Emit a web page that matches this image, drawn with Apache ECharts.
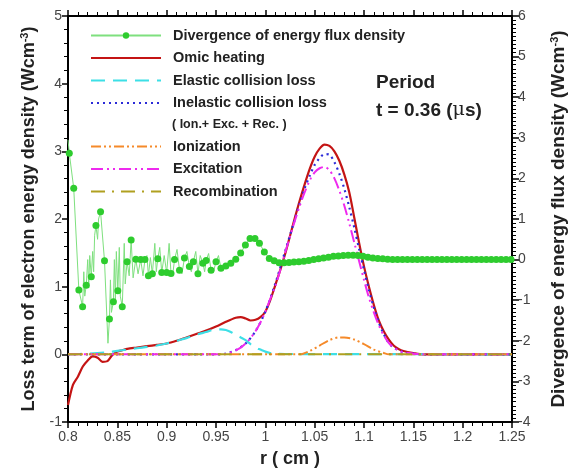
<!DOCTYPE html>
<html>
<head>
<meta charset="utf-8">
<script src="https://cdn.jsdelivr.net/npm/echarts@6/dist/echarts.min.js"></script>
<style>
  html, body { margin: 0; padding: 0; background: #fff; }
  #chart { width: 574px; height: 470px; }
</style>
</head>
<body>
<div id="chart"></div>
<script>
// r (cm) and values
var divDots = [ // divergence of energy flux density, right axis, dots
  [0.8013, 2.62], [0.8058, 1.76], [0.811, -0.75], [0.8148, -1.16], [0.8185, -0.63], [0.8236, -0.42],
  [0.8283, 0.84], [0.833, 1.18], [0.837, -0.03], [0.842, -1.46], [0.846, -1.04], [0.8505, -0.77],
  [0.855, -1.16], [0.8599, -0.05], [0.864, 0.48], [0.8687, 0.01], [0.8737, 0.0], [0.878, 0.0],
  [0.8815, -0.4], [0.8855, -0.35], [0.891, 0.02], [0.895, -0.32], [0.90, -0.32], [0.9044, -0.34],
  [0.908, 0.0], [0.913, -0.26], [0.918, 0.04], [0.923, -0.17], [0.927, -0.05], [0.9317, -0.35],
  [0.9367, -0.09], [0.940, -0.02], [0.945, -0.26], [0.950, -0.05], [0.955, -0.21], [0.960, -0.16],
  [0.965, -0.09], [0.970, 0.01], [0.975, 0.16], [0.9798, 0.36], [0.9845, 0.52], [0.9895, 0.52],
  [0.994, 0.40], [0.999, 0.19], [1.004, 0.03], [1.009, -0.03], [1.014, -0.08], [1.019, -0.08],
  [1.024, -0.07], [1.029, -0.06], [1.034, -0.05], [1.039, -0.04], [1.044, -0.02], [1.049, 0.0],
  [1.054, 0.02], [1.059, 0.04], [1.064, 0.06], [1.069, 0.08], [1.074, 0.09], [1.079, 0.1],
  [1.084, 0.11], [1.089, 0.11], [1.094, 0.1], [1.099, 0.08], [1.104, 0.06], [1.109, 0.04],
  [1.114, 0.03], [1.119, 0.02], [1.124, 0.01], [1.129, 0.0], [1.134, 0.0], [1.139, 0.0],
  [1.144, 0.0], [1.149, 0.0], [1.154, 0.0], [1.159, 0.0], [1.164, 0.0], [1.169, 0.0],
  [1.174, 0.0], [1.179, 0.0], [1.184, 0.0], [1.189, 0.0], [1.194, 0.0], [1.199, 0.0],
  [1.204, 0.0], [1.209, 0.0], [1.214, 0.0], [1.219, 0.0], [1.224, 0.0], [1.229, 0.0],
  [1.234, 0.0], [1.239, 0.0], [1.244, 0.0], [1.249, 0.0]
]
var divSpikes = [ // thin line wiggles between the dots
  [0.8, 2.95], [0.816, -0.3], [0.817, -0.9], [0.82, 0.0], [0.821, -0.7], [0.822, 0.1],
  [0.825, 0.2], [0.826, -0.3], [0.827, 0.6], [0.83, 0.5], [0.831, 1.0], [0.8405, -2.06],
  [0.843, -0.5], [0.844, -1.3], [0.847, 0.0], [0.848, -1.0], [0.849, 0.2], [0.852, 0.3],
  [0.853, -0.9], [0.857, 0.4], [0.858, -0.6], [0.862, -0.4], [0.866, -0.45], [0.871, -0.35],
  [0.876, -0.4], [0.88, 0.1], [0.8835, 0.05], [0.888, 0.4], [0.8895, -0.3], [0.893, 0.3],
  [0.8975, 0.1], [0.9025, 0.4], [0.906, -0.4], [0.9105, 0.25], [0.9155, -0.35], [0.9205, 0.2],
  [0.925, -0.3], [0.9295, 0.2], [0.934, 0.1], [0.9385, -0.3], [0.9425, 0.15], [0.9475, -0.3],
  [0.9525, 0.1], [0.9575, -0.25]
]

var omic = [
  [0.8, -0.75], [0.805, -0.45], [0.81, -0.33], [0.815, -0.18], [0.82, -0.09], [0.825, -0.03],
  [0.83, -0.05], [0.835, -0.11], [0.84, -0.1], [0.845, -0.01], [0.85, 0.04], [0.855, 0.06],
  [0.86, 0.08], [0.87, 0.1], [0.88, 0.12], [0.89, 0.14], [0.9, 0.16], [0.91, 0.2], [0.92, 0.25],
  [0.93, 0.3], [0.94, 0.35], [0.95, 0.41], [0.96, 0.48], [0.97, 0.54], [0.975, 0.55], [0.98, 0.53],
  [0.985, 0.5], [0.99, 0.51], [0.995, 0.55], [1.0, 0.63], [1.005, 0.8], [1.01, 1.02], [1.015, 1.24],
  [1.02, 1.48], [1.025, 1.75], [1.03, 2.02], [1.035, 2.28], [1.04, 2.52], [1.045, 2.74], [1.05, 2.92],
  [1.055, 3.04], [1.06, 3.1], [1.065, 3.08], [1.07, 3.0], [1.075, 2.86], [1.08, 2.66], [1.085, 2.4],
  [1.09, 2.03], [1.095, 1.65], [1.1, 1.3], [1.105, 1.0], [1.11, 0.73], [1.115, 0.5], [1.12, 0.34],
  [1.125, 0.22], [1.13, 0.13], [1.135, 0.08], [1.14, 0.05], [1.15, 0.02], [1.16, 0], [1.2, 0], [1.25, 0]
]
var elastic = [
  [0.8, 0], [0.82, 0.01], [0.84, 0.03], [0.85, 0.05], [0.86, 0.07], [0.87, 0.09], [0.88, 0.11],
  [0.89, 0.13], [0.9, 0.16], [0.91, 0.2], [0.92, 0.24], [0.93, 0.29], [0.94, 0.33], [0.95, 0.37],
  [0.955, 0.37], [0.96, 0.36], [0.965, 0.33], [0.97, 0.29], [0.975, 0.25], [0.98, 0.21], [0.985, 0.15],
  [0.99, 0.1], [0.995, 0.07], [1.0, 0.04], [1.005, 0.02], [1.01, 0.01], [1.02, 0.005], [1.25, 0]
]
var inelastic = [
  [0.8, 0], [0.955, 0], [0.96, 0.01], [0.97, 0.06], [0.98, 0.16], [0.99, 0.34], [1.0, 0.63],
  [1.01, 1.04], [1.02, 1.52], [1.03, 2.0], [1.035, 2.24], [1.04, 2.46], [1.045, 2.64], [1.05, 2.8],
  [1.055, 2.9], [1.06, 2.96], [1.065, 2.95], [1.07, 2.84], [1.075, 2.67], [1.08, 2.45], [1.085, 2.18],
  [1.09, 1.88], [1.095, 1.56], [1.1, 1.25], [1.105, 0.95], [1.11, 0.69], [1.115, 0.47], [1.12, 0.3],
  [1.125, 0.17], [1.13, 0.1], [1.14, 0.03], [1.15, 0.01], [1.16, 0], [1.25, 0]
]
var ionization = [
  [0.8, 0], [1.035, 0], [1.045, 0.05], [1.055, 0.13], [1.065, 0.21], [1.075, 0.25], [1.08, 0.25],
  [1.09, 0.22], [1.1, 0.15], [1.11, 0.07], [1.12, 0.02], [1.125, 0], [1.25, 0]
]
var excitation = [
  [0.8, 0], [0.955, 0], [0.96, 0.01], [0.965, 0.03], [0.97, 0.06], [0.975, 0.1], [0.98, 0.16],
  [0.985, 0.24], [0.99, 0.34], [0.995, 0.47], [1.0, 0.63], [1.005, 0.82], [1.01, 1.0], [1.015, 1.24],
  [1.02, 1.5], [1.025, 1.74], [1.03, 1.98], [1.035, 2.2], [1.04, 2.4], [1.045, 2.57], [1.05, 2.69],
  [1.055, 2.75], [1.06, 2.77], [1.065, 2.72], [1.07, 2.6], [1.075, 2.42], [1.08, 2.2], [1.085, 1.94],
  [1.09, 1.66], [1.095, 1.38], [1.1, 1.1], [1.105, 0.84], [1.11, 0.62], [1.115, 0.43], [1.12, 0.28],
  [1.125, 0.17], [1.13, 0.1], [1.135, 0.06], [1.14, 0.03], [1.15, 0.01], [1.16, 0], [1.25, 0]
]
var recombination = [[0.8, 0], [1.25, 0]]

var xTicks = [0.8, 1.25, 0.05]
var leftTicks = [-1, 5, 1]
var rightTicks = [-4, 6, 1]

var myChart = echarts.init(document.getElementById('chart'))

// dots + wiggles in one thin line, dots only where they were drawn
var divData = divDots.map(p => ({ value: p })).concat(divSpikes.map(p => ({ value: p, symbol: 'none' })))
divData.sort((a, b) => a.value[0] - b.value[0])

var tickFont = { color: '#444', fontSize: 14, fontFamily: 'Arial, Liberation Sans' }
function nameFont(size) {
  return {
    color: '#222', fontSize: size, fontWeight: 'bold', fontFamily: 'Arial, Liberation Sans',
    rich: { sup: { fontSize: 11, fontWeight: 'bold', color: '#222', verticalAlign: 'top', padding: [0, 0, 9, 0] } }
  }
}
var blackAxis = { onZero: false, lineStyle: { color: '#000', width: 2 } }

function curve(name, data, color, type, width) {
  return {
    name: name, type: 'line', data: data, yAxisIndex: 0, symbol: 'none', smooth: 0.3,
    lineStyle: { color: color, width: width || 2, type: type },
    itemStyle: { color: color }
  }
}
function noDot(name) { return { name: name, itemStyle: { opacity: 0 } } }

var legendText = { color: '#222', fontSize: 14.5, fontWeight: 'bold', fontFamily: 'Arial, Liberation Sans', padding: [0, 0, 0, 7] }

option = {
  backgroundColor: '#fff',
  animation: false,
  grid: { left: 68, right: 62, top: 16, bottom: 48, outerBoundsMode: 'none' },
  legend: [{
    data: [{ name: 'Divergence of energy flux density' }, noDot('Omic heating'), noDot('Elastic collision loss'), noDot('Inelastic collision loss')],
    orient: 'vertical', left: 85, top: 23, itemWidth: 70, itemHeight: 8, itemGap: 7.5,
    textStyle: legendText
  }, {
    data: [noDot('Ionization'), noDot('Excitation'), noDot('Recombination')],
    orient: 'vertical', left: 85, top: 134, itemWidth: 70, itemHeight: 8, itemGap: 7.5,
    textStyle: legendText
  }],
  graphic: [
    { type: 'text', left: 172, top: 118, style: { text: '( Ion.+ Exc. + Rec. )', fill: '#222', font: 'bold 12.5px Arial, Liberation Sans' } },
    { type: 'text', left: 376, top: 73, style: { text: 'Period', fill: '#222', font: 'bold 19px Arial, Liberation Sans' } },
    { type: 'text', left: 376, top: 101, style: {
      text: 't = 0.36 ({m|μ}s)', fill: '#222', font: 'bold 19px Arial, Liberation Sans',
      rich: { m: { fontSize: 19, fontWeight: 'normal', fill: '#222', fontFamily: 'DejaVu Serif' } } } }
  ],
  xAxis: [{
    type: 'value', min: xTicks[0], max: xTicks[1], interval: xTicks[2],
    name: 'r ( cm )', nameLocation: 'middle', nameGap: 28, nameTextStyle: nameFont(18),
    axisLine: blackAxis, splitLine: { show: false },
    axisTick: { length: 6, lineStyle: { color: '#000', width: 1.5 } },
    minorTick: { show: true, splitNumber: 5, length: 4, lineStyle: { color: '#000' } },
    axisLabel: Object.assign({ margin: 8, formatter: v => String(+v.toFixed(2)) }, tickFont)
  }, {
    type: 'value', position: 'top', min: xTicks[0], max: xTicks[1], interval: xTicks[2],
    axisLine: blackAxis, splitLine: { show: false }, axisLabel: { show: false },
    axisTick: { length: 6, lineStyle: { color: '#000', width: 1.5 } },
    minorTick: { show: true, splitNumber: 5, length: 4, lineStyle: { color: '#000' } }
  }],
  yAxis: [{
    type: 'value', min: leftTicks[0], max: leftTicks[1], interval: leftTicks[2],
    name: 'Loss term of electron energy density (Wcm{sup|-3})', nameLocation: 'middle', nameGap: 29,
    nameTextStyle: nameFont(18),
    axisLine: blackAxis, splitLine: { show: false },
    axisTick: { length: 6, lineStyle: { color: '#000', width: 1.5 } },
    minorTick: { show: true, splitNumber: 5, length: 4, lineStyle: { color: '#000' } },
    axisLabel: Object.assign({ margin: 6 }, tickFont)
  }, {
    type: 'value', min: rightTicks[0], max: rightTicks[1], interval: rightTicks[2],
    name: 'Divergence of energy flux density (Wcm{sup|-3})', nameLocation: 'middle', nameGap: 37,
    nameRotate: 90, nameTextStyle: nameFont(19),
    axisLine: blackAxis, splitLine: { show: false },
    axisTick: { length: 7, lineStyle: { color: '#000', width: 1.5 } },
    minorTick: { show: true, splitNumber: 10, length: 4, lineStyle: { color: '#000' } },
    axisLabel: Object.assign({ margin: 6 }, tickFont)
  }],
  series: [
    {
      name: 'Divergence of energy flux density', type: 'line', yAxisIndex: 1, data: divData,
      symbol: 'circle', symbolSize: 7, showAllSymbol: true,
      lineStyle: { color: '#7ee07e', width: 1 }, itemStyle: { color: '#2ecc2e' }
    },
    curve('Omic heating', omic, '#c41414', 'solid', 2.2),
    curve('Elastic collision loss', elastic, '#3ddfe6', [14, 8], 2.2),
    curve('Inelastic collision loss', inelastic, '#2b2bd8', [2, 4], 2.2),
    curve('Ionization', ionization, '#f58a2a', [10, 3, 2, 3, 2, 3], 2),
    curve('Excitation', excitation, '#ee2aee', [12, 4, 2, 4, 2, 4], 2),
    curve('Recombination', recombination, '#b0a020', [14, 7, 2, 7], 2)
  ]
}
myChart.setOption(option)
</script>
</body>
</html>
